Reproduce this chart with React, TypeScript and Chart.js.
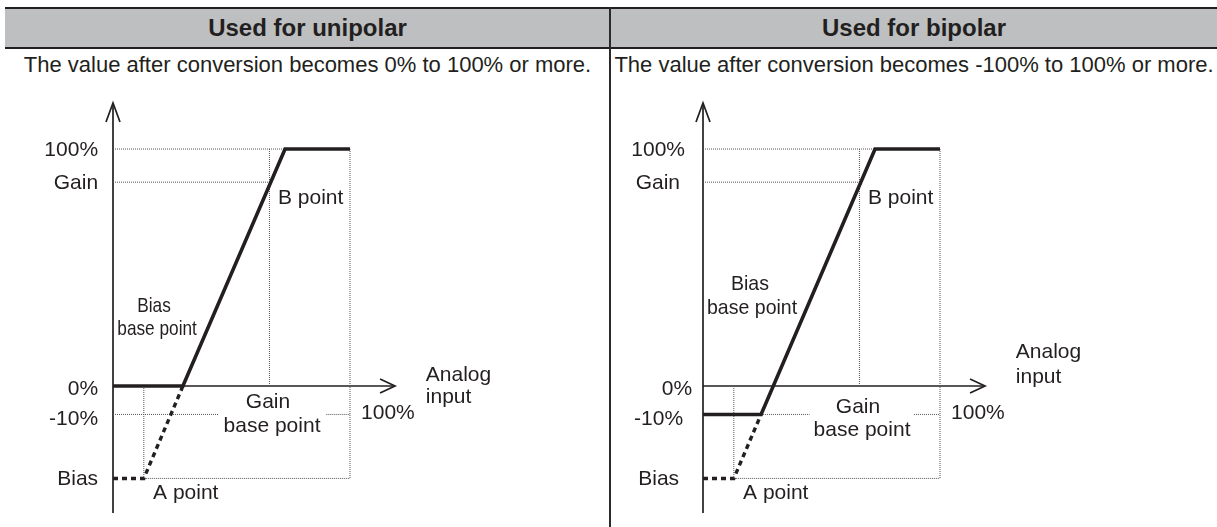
import React, { useEffect, useRef } from "react";
import { Chart, registerables } from "chart.js";

Chart.register(...registerables);

// ---------------- data ----------------
const yTickValues = [100, 86, 0, -12, -39];
const yTickLabels = ["100%", "Gain", "0%", "-10%", "Bias"];

// unipolar
const uniMainX = [0, 29.5, 72.6, 100];
const uniMainY = [0, 0, 100, 100];
const uniExtX = [0, 13, 29.5];
const uniExtY = [-39, -39, 0];
const uniGuides = [
  [0, 100, 72.6, 100],
  [0, 86, 66, 86],
  [0, -12, 44.3, -12],
  [90, -12, 100, -12],
  [13, 0, 13, -39],
  [66, 100, 66, 0],
  [100, 100, 100, -39],
  [13, -39, 100, -39],
];

// bipolar
const biMainX = [0, 24.5, 72.6, 100];
const biMainY = [-12, -12, 100, 100];
const biExtX = [0, 13, 24.5];
const biExtY = [-39, -39, -12];
const biGuides = [
  [0, 100, 72.6, 100],
  [0, 86, 66, 86],
  [24.5, -12, 45, -12],
  [89, -12, 100, -12],
  [13, 0, 13, -39],
  [66, 100, 66, 0],
  [100, 100, 100, -39],
  [13, -39, 100, -39],
];

// axis extents (data units)
const axisXRight = 119;
const axisYTop = 119.4;
const axisYBottom = -53.6;

// ---------------- layout / style ----------------
const INK = "#231f20";
const GUIDE = "#555555";
const FONT = '"Liberation Sans", Arial, Helvetica, sans-serif';
const PX_PER_UNIT = 2.37;
const CANVAS_TOP = 80;
const CANVAS_H = 447;
const ORIGIN_Y = 386; // page px of 0%

type Note = { text: string; x: number; y: number; align: CanvasTextAlign; sx?: number };

const uniNotes: Note[] = [
  { text: "B point", x: 69.6, y: 79.3, align: "left" },
  { text: "Bias", x: 17.3, y: 33.8, align: "center", sx: 0.82 },
  { text: "base point", x: 18.6, y: 24.1, align: "center", sx: 0.82 },
  { text: "Gain", x: 65.4, y: -6.75, align: "center" },
  { text: "base point", x: 67.1, y: -16.9, align: "center" },
  { text: "100%", x: 116, y: -11.4, align: "center" },
  { text: "Analog", x: 132, y: 4.6, align: "left" },
  { text: "input", x: 132, y: -4.6, align: "left" },
  { text: "A point", x: 16.9, y: -45.1, align: "left" },
];
const biNotes: Note[] = [
  { text: "B point", x: 69.6, y: 79.3, align: "left" },
  { text: "Bias", x: 19.8, y: 43.0, align: "center", sx: 0.93 },
  { text: "base point", x: 20.7, y: 32.9, align: "center", sx: 0.93 },
  { text: "Gain", x: 65.4, y: -8.9, align: "center" },
  { text: "base point", x: 67.1, y: -18.6, align: "center" },
  { text: "100%", x: 116, y: -11.4, align: "center" },
  { text: "Analog", x: 132, y: 14.3, align: "left" },
  { text: "input", x: 132, y: 3.8, align: "left" },
  { text: "A point", x: 16.9, y: -45.1, align: "left" },
];
const uniTickLabelX = [-6.3, -6.3, -6.3, -6.3, -6.3];
const biTickLabelX = [-7.6, -9.7, -4.6, -8.4, -10.1];
const tickLabelDy = [1, 1, 3, 5, 1];

type PanelProps = {
  left: number;
  width: number;
  originX: number; // page px of x=0
  mainX: number[];
  mainY: number[];
  extX: number[];
  extY: number[];
  guides: number[][];
  notes: Note[];
  tickLabelX: number[];
};

function pts(xs: number[], ys: number[]) {
  return xs.map((x, i) => ({ x, y: ys[i] }));
}

function Panel(p: PanelProps) {
  const ref = useRef<HTMLCanvasElement | null>(null);
  useEffect(() => {
    const canvas = ref.current;
    if (!canvas) return;
    const xmin = -(p.originX - p.left) / PX_PER_UNIT;
    const xmax = xmin + p.width / PX_PER_UNIT;
    const ymax = (ORIGIN_Y - CANVAS_TOP) / PX_PER_UNIT;
    const ymin = ymax - CANVAS_H / PX_PER_UNIT;

    const guideSets = p.guides.map((g) => ({
      data: [
        { x: g[0], y: g[1] },
        { x: g[2], y: g[3] },
      ],
      showLine: true,
      pointRadius: 0,
      borderColor: GUIDE,
      borderWidth: 1,
      borderDash: [1, 1],
      order: 5,
    }));

    const plugin = {
      id: "diagram",
      beforeDatasetsDraw(chart: any) {
        const { ctx } = chart;
        const xs = chart.scales.x;
        const ys = chart.scales.y;
        const ox = xs.getPixelForValue(0);
        const oy = ys.getPixelForValue(0);
        const yt = ys.getPixelForValue(axisYTop);
        const yb = ys.getPixelForValue(axisYBottom);
        const xr = xs.getPixelForValue(axisXRight);
        ctx.save();
        ctx.strokeStyle = INK;
        ctx.lineWidth = 1.7;
        ctx.setLineDash([]);
        ctx.beginPath();
        ctx.moveTo(ox, yb);
        ctx.lineTo(ox, yt);
        ctx.stroke();
        ctx.beginPath();
        ctx.moveTo(ox - 7, yt + 19);
        ctx.lineTo(ox, yt);
        ctx.lineTo(ox + 7, yt + 19);
        ctx.stroke();
        ctx.beginPath();
        ctx.moveTo(ox, oy);
        ctx.lineTo(xr, oy);
        ctx.stroke();
        ctx.beginPath();
        ctx.moveTo(xr - 15, oy - 7);
        ctx.lineTo(xr, oy);
        ctx.lineTo(xr - 15, oy + 7);
        ctx.stroke();
        ctx.restore();
      },
      afterDatasetsDraw(chart: any) {
        const { ctx } = chart;
        const xs = chart.scales.x;
        const ys = chart.scales.y;
        ctx.save();
        ctx.fillStyle = INK;
        ctx.font = `21px ${FONT}`;
        ctx.textBaseline = "middle";
        // y tick labels
        ctx.textAlign = "right";
        yTickValues.forEach((v, i) => {
          ctx.fillText(
            yTickLabels[i],
            xs.getPixelForValue(p.tickLabelX[i]),
            ys.getPixelForValue(v) + tickLabelDy[i]
          );
        });
        // notes
        p.notes.forEach((n) => {
          const px = xs.getPixelForValue(n.x);
          const py = ys.getPixelForValue(n.y);
          ctx.save();
          ctx.translate(px, py);
          ctx.scale(n.sx ?? 1, 1);
          ctx.textAlign = n.align;
          ctx.fillText(n.text, 0, 0);
          ctx.restore();
        });
        ctx.restore();
      },
    };

    const chart = new Chart(canvas, {
      type: "scatter",
      data: {
        datasets: [
          {
            data: pts(p.mainX, p.mainY),
            showLine: true,
            pointRadius: 0,
            borderColor: INK,
            borderWidth: 3.6,
            borderJoinStyle: "miter",
            borderCapStyle: "butt",
            order: 1,
          } as any,
          {
            data: pts(p.extX, p.extY),
            showLine: true,
            pointRadius: 0,
            borderColor: INK,
            borderWidth: 3.4,
            borderDash: [5, 4],
            order: 2,
          } as any,
          ...(guideSets as any[]),
        ],
      },
      options: {
        responsive: false,
        animation: false,
        devicePixelRatio: 1,
        events: [],
        layout: { padding: 0 },
        plugins: { legend: { display: false }, tooltip: { enabled: false }, title: { display: false } },
        scales: {
          x: { type: "linear", display: false, min: xmin, max: xmax, bounds: "data" },
          y: { type: "linear", display: false, min: ymin, max: ymax, bounds: "data" },
        },
      } as any,
      plugins: [plugin as any],
    });
    return () => chart.destroy();
  }, []);
  return (
    <canvas
      ref={ref}
      width={p.width}
      height={CANVAS_H}
      style={{ position: "absolute", left: p.left, top: CANVAS_TOP, width: p.width, height: CANVAS_H }}
    />
  );
}

export default function App() {
  useEffect(() => {
    document.body.style.margin = "0";
  }, []);
  const textBase: React.CSSProperties = {
    position: "absolute",
    fontFamily: FONT,
    color: INK,
    textAlign: "center",
    whiteSpace: "nowrap",
  };
  return (
    <div style={{ position: "relative", width: 1217, height: 527, background: "#fff", overflow: "hidden" }}>
      <div
        style={{
          position: "absolute",
          left: 5,
          top: 7,
          width: 1212,
          height: 38,
          background: "#bdbfc1",
          borderTop: `2px solid ${INK}`,
          borderBottom: `2px solid ${INK}`,
        }}
      />
      <div style={{ ...textBase, left: 5, width: 605, top: 9, height: 38, lineHeight: "38px", fontSize: 24, fontWeight: "bold" }}>
        Used for unipolar
      </div>
      <div style={{ ...textBase, left: 611, width: 606, top: 9, height: 38, lineHeight: "38px", fontSize: 24, fontWeight: "bold" }}>
        Used for bipolar
      </div>
      <div style={{ ...textBase, left: 5, width: 605, top: 52, height: 26, lineHeight: "26px", fontSize: 22 }}>
        The value after conversion becomes 0% to 100% or more.
      </div>
      <div style={{ ...textBase, left: 611, width: 606, top: 52, height: 26, lineHeight: "26px", fontSize: 22 }}>
        The value after conversion becomes -100% to 100% or more.
      </div>
      <div style={{ position: "absolute", left: 609, top: 7, width: 2, height: 520, background: "#2a2a2a" }} />
      <Panel
        left={0}
        width={609}
        originX={113}
        mainX={uniMainX}
        mainY={uniMainY}
        extX={uniExtX}
        extY={uniExtY}
        guides={uniGuides}
        notes={uniNotes}
        tickLabelX={uniTickLabelX}
      />
      <Panel
        left={611}
        width={606}
        originX={703}
        mainX={biMainX}
        mainY={biMainY}
        extX={biExtX}
        extY={biExtY}
        guides={biGuides}
        notes={biNotes}
        tickLabelX={biTickLabelX}
      />
    </div>
  );
}
